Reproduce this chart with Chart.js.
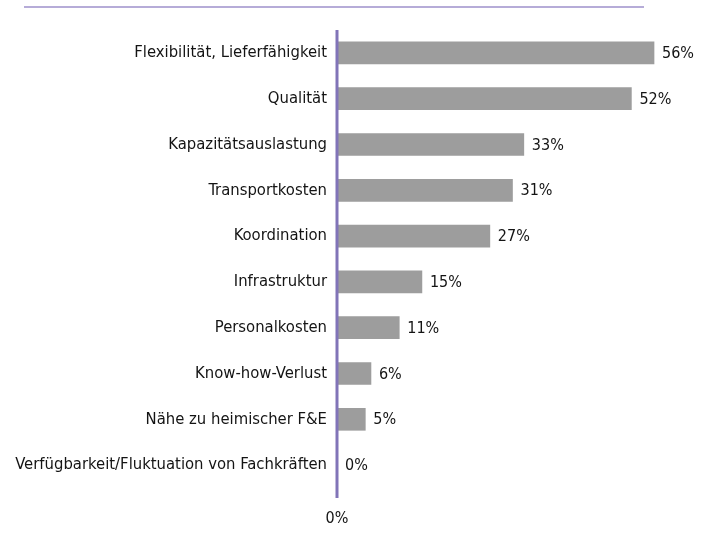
<!DOCTYPE html>
<html>
<head>
<meta charset="utf-8">
<script src="https://cdn.jsdelivr.net/npm/chart.js@4"></script>
<style>
html,body{margin:0;padding:0;background:#fff;}
#wrap{width:710px;height:541px;position:relative;}
canvas{display:block;}
</style>
</head>
<body>
<div id="wrap"><canvas id="c" width="710" height="541"></canvas></div>
<script>
const categories = [
  "Flexibilität, Lieferfähigkeit",
  "Qualität",
  "Kapazitätsauslastung",
  "Transportkosten",
  "Koordination",
  "Infrastruktur",
  "Personalkosten",
  "Know-how-Verlust",
  "Nähe zu heimischer F&E",
  "Verfügbarkeit/Fluktuation von Fachkräften"
];
const values = [56, 52, 33, 31, 27, 15, 11, 6, 5, 0];
const xTickValues = [0];

const FONT = "'Liberation Sans Narrow', 'DejaVu Sans Condensed', Roboto, sans-serif";

const decorPlugin = {
  id: 'decor',
  afterDraw(chart) {
    const ctx = chart.ctx;
    const x0 = chart.scales.x.getPixelForValue(0);
    const a = chart.chartArea;
    ctx.save();
    ctx.strokeStyle = '#b6acd8';
    ctx.lineWidth = 2;
    ctx.beginPath();
    ctx.moveTo(24, 7);
    ctx.lineTo(644, 7);
    ctx.stroke();
    ctx.strokeStyle = '#8174b8';
    ctx.lineWidth = 3;
    ctx.beginPath();
    ctx.moveTo(x0, a.top);
    ctx.lineTo(x0, a.bottom + 10);
    ctx.stroke();
    ctx.fillStyle = '#141414';
    ctx.font = '16px ' + FONT;
    ctx.textBaseline = 'middle';
    ctx.textAlign = 'left';
    const meta = chart.getDatasetMeta(0);
    meta.data.forEach((bar, i) => {
      ctx.fillText(values[i] + '%', bar.x + 8, bar.y + 1);
    });
    ctx.restore();
  }
};

new Chart(document.getElementById('c'), {
  type: 'bar',
  data: {
    labels: categories,
    datasets: [{
      data: values,
      backgroundColor: '#9d9d9d',
      borderWidth: 0,
      barThickness: 22
    }]
  },
  options: {
    indexAxis: 'y',
    responsive: false,
    animation: false,
    devicePixelRatio: 1,
    layout: { padding: { top: 30, right: 22, left: 0, bottom: 0 } },
    plugins: { legend: { display: false }, tooltip: { enabled: false } },
    scales: {
      x: {
        min: 0, max: 62,
        grid: { display: false, drawTicks: false },
        border: { display: false },
        afterBuildTicks(scale) { scale.ticks = xTickValues.map(v => ({ value: v })); },
        afterFit(scale) { scale.height = 53; },
        ticks: {
          padding: 21,
          color: '#141414',
          font: { family: FONT, size: 16 },
          callback: v => v + '%'
        }
      },
      y: {
        grid: { display: false, drawTicks: false },
        border: { display: false },
        afterFit(scale) { scale.width = 337; },
        ticks: {
          padding: 10,
          color: '#141414',
          font: { family: FONT, size: 16.5 }
        }
      }
    }
  },
  plugins: [decorPlugin]
});
</script>
</body>
</html>
